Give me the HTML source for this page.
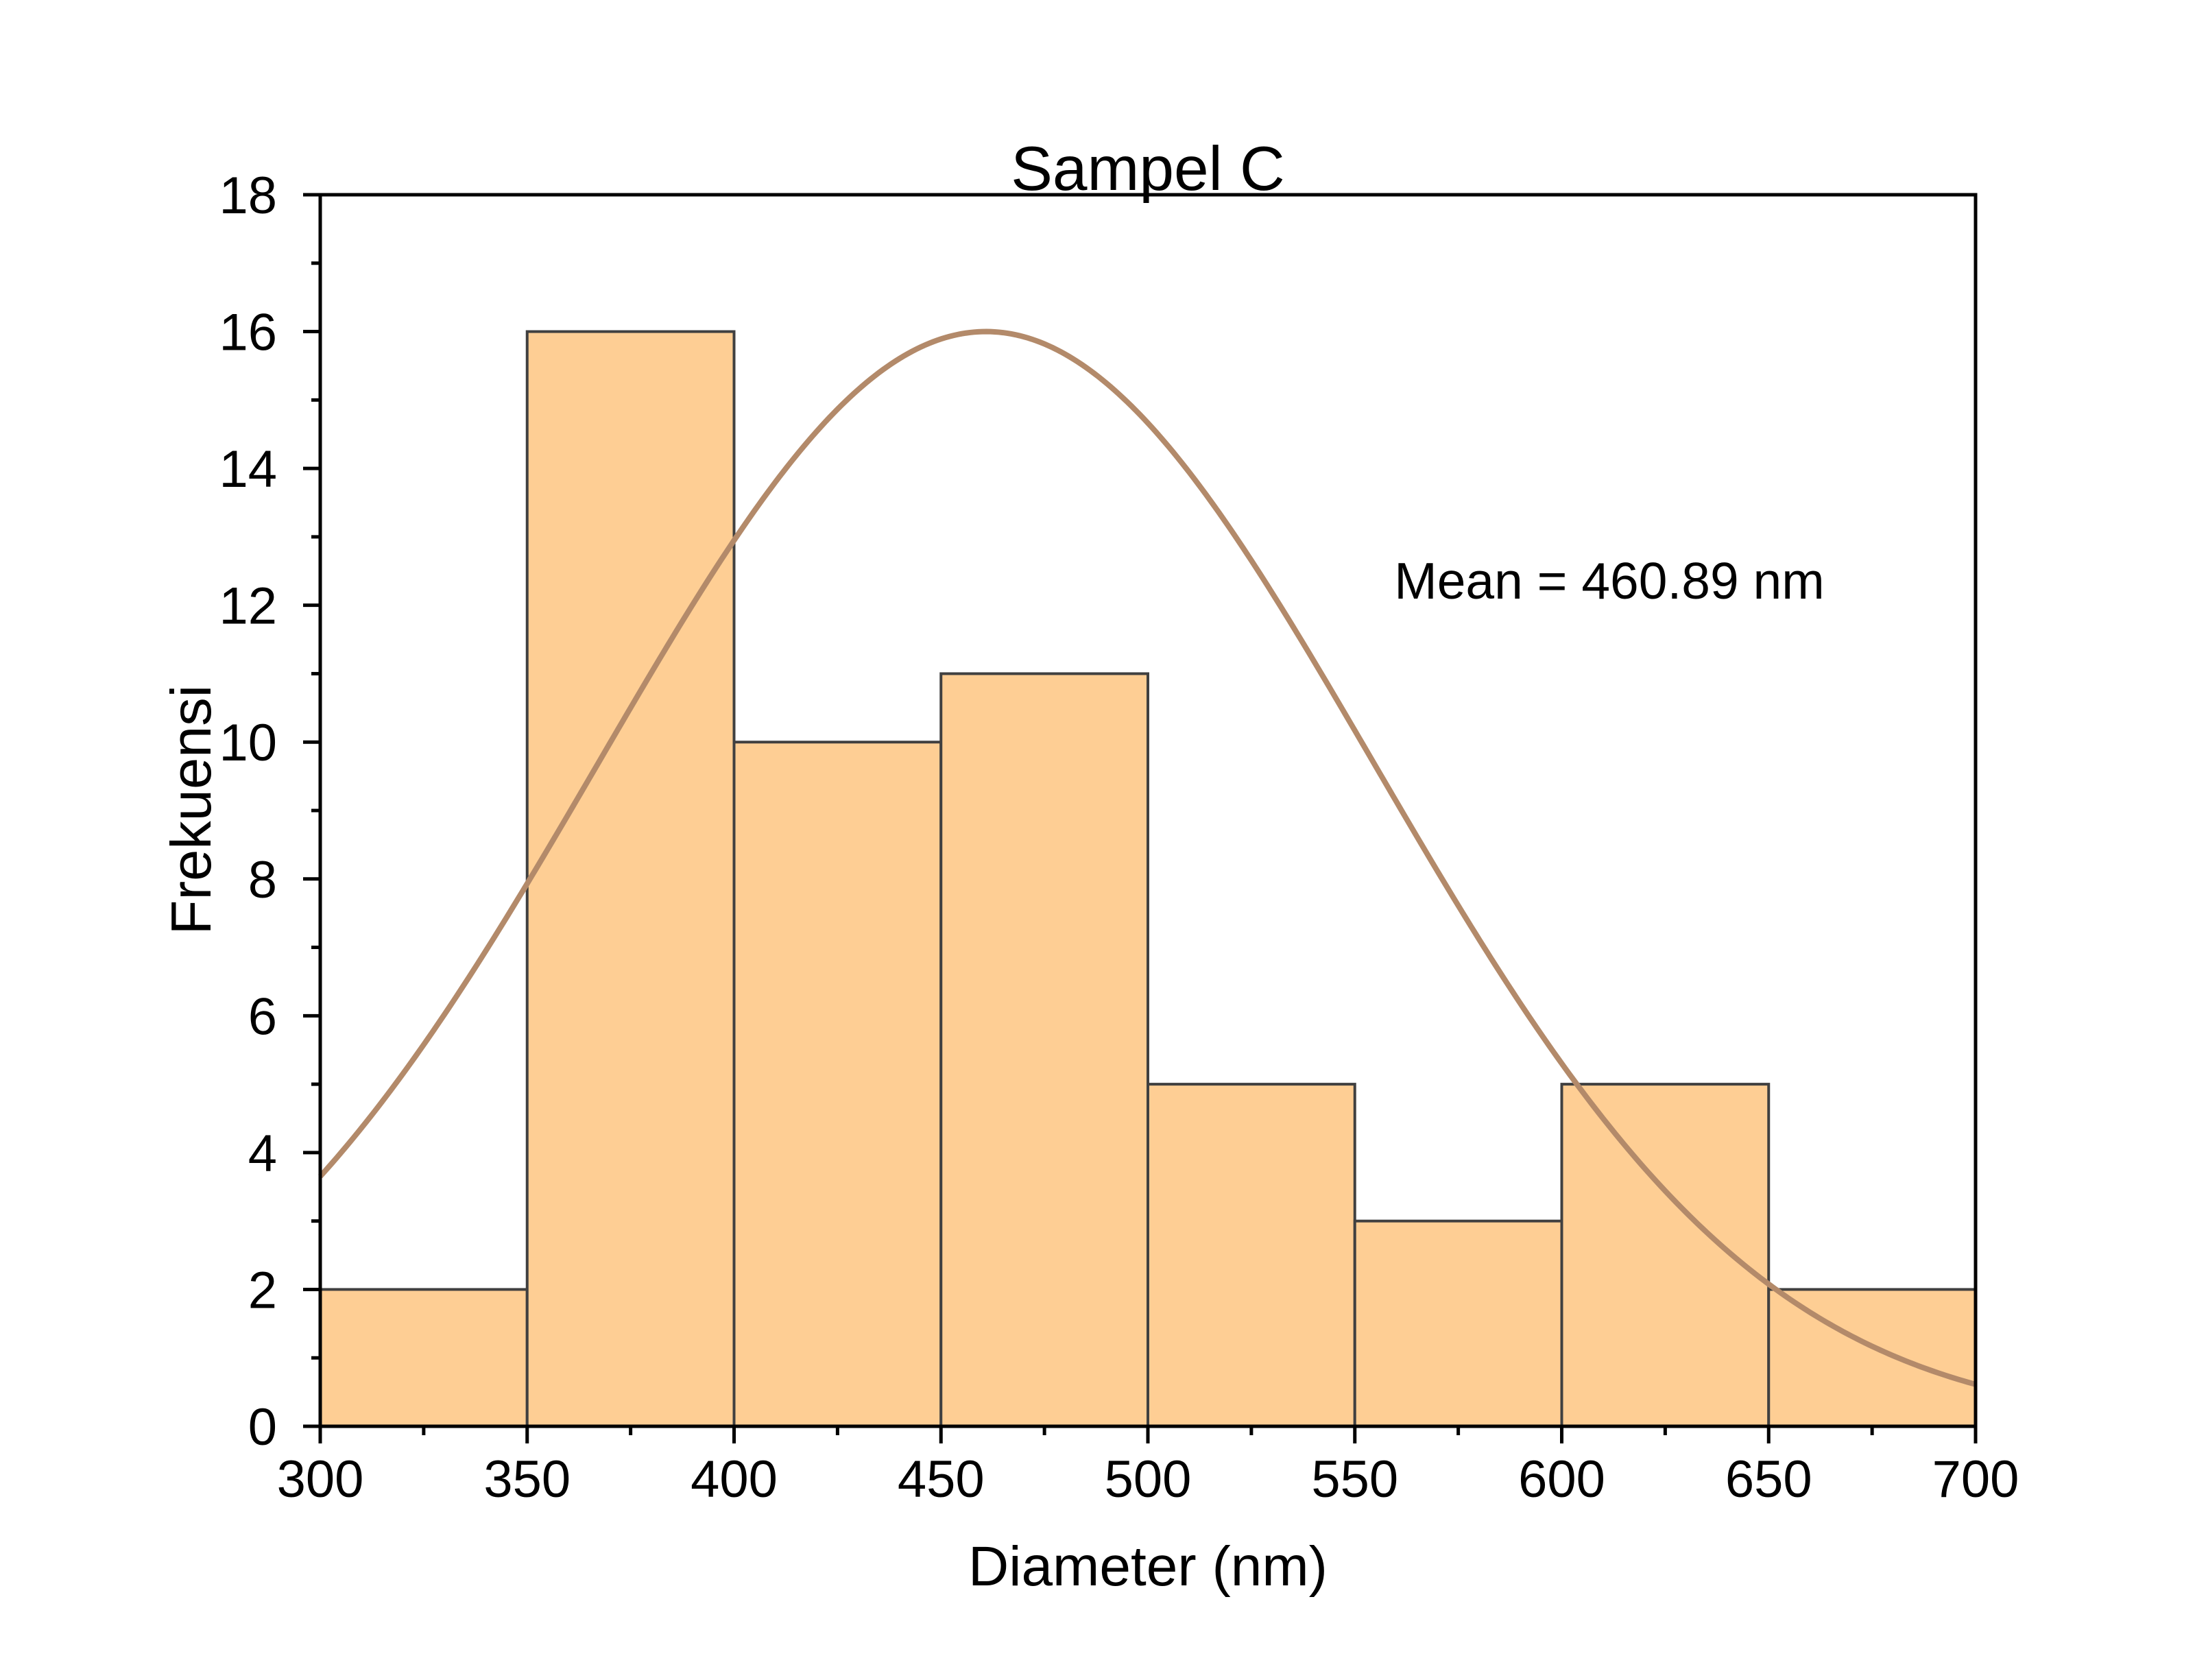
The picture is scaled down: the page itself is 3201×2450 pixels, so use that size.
<!DOCTYPE html>
<html><head><meta charset="utf-8"><style>
html,body{margin:0;padding:0;background:#fff;}
svg{display:block;}
text{font-family:"Liberation Sans",Arial,sans-serif;fill:#000;}
</style></head><body>
<svg id="chart" width="3201" height="2450" viewBox="0 0 3201 2450" xmlns="http://www.w3.org/2000/svg">
<rect width="3201" height="2450" fill="#fff"/>
<g id="bars"></g>
<g id="curve"></g>
<g id="axes"></g>
<text x="1674" y="277" font-size="91" text-anchor="middle">Sampel C</text>
<text x="1674" y="2312" font-size="82" text-anchor="middle">Diameter (nm)</text>
<text transform="translate(307,1181) rotate(-90)" font-size="83" text-anchor="middle">Frekuensi</text>
<text x="2347" y="873" font-size="75" text-anchor="middle">Mean = 460.89 nm</text>
</svg>
<script>
const binStarts = [300,350,400,450,500,550,600,650];
const binWidth = 50;
const counts = [2,16,10,11,5,3,5,2];
const xTicks = [300,350,400,450,500,550,600,650,700];
const yTicks = [0,2,4,6,8,10,12,14,16,18];
const fitMean = 460.89;
const fitPeak = 16.0;
const fitSigma = 93.6;

const L=467,R=2881,T=284,B=2080;
const xMin=300,xMax=700,yMin=0,yMax=18;
const NS="http://www.w3.org/2000/svg";
function sx(v){return L+(v-xMin)/(xMax-xMin)*(R-L);}
function sy(v){return B-(v-yMin)/(yMax-yMin)*(B-T);}
function mk(tag,attrs,parent){const e=document.createElementNS(NS,tag);for(const k in attrs)e.setAttribute(k,attrs[k]);parent.appendChild(e);return e;}

const gb=document.getElementById('bars');
binStarts.forEach((s,i)=>{
  const x0=sx(s),x1=sx(s+binWidth),y=sy(counts[i]);
  const r=mk('rect',{x:x0,y:y,width:x1-x0,height:B-y,fill:'#fece94',stroke:'#404040','stroke-width':4},gb);
  
  
});

const gc=document.getElementById('curve');
let d='';
for(let i=0;i<=400;i++){
  const v=xMin+(xMax-xMin)*i/400;
  const f=fitPeak*Math.exp(-Math.pow(v-fitMean,2)/(2*fitSigma*fitSigma));
  d+=(i?'L':'M')+sx(v).toFixed(2)+' '+sy(f).toFixed(2);
}
const p=mk('path',{d:d,fill:'none',stroke:'#b38a6a','stroke-width':8},gc);



const ga=document.getElementById('axes');
const frame=mk('rect',{x:L,y:T,width:R-L,height:B-T,fill:'none',stroke:'#000','stroke-width':5},ga);


xTicks.forEach((v,i)=>{
  const x=sx(v);
  const t=mk('line',{x1:x,y1:B,x2:x,y2:B+25,stroke:'#000','stroke-width':5},ga);
  
  
  const lb=mk('text',{x:x,y:2183,'font-size':76,'text-anchor':'middle'},ga);
  lb.textContent=v;
  
  
  if(i<xTicks.length-1){
    const xm=sx(v+25);
    const m=mk('line',{x1:xm,y1:B,x2:xm,y2:B+13,stroke:'#000','stroke-width':5},ga);
    
    
  }
});
yTicks.forEach((v,i)=>{
  const y=sy(v);
  const t=mk('line',{x1:L-25,y1:y,x2:L,y2:y,stroke:'#000','stroke-width':5},ga);
  
  
  const lb=mk('text',{x:404,y:y+27,'font-size':76,'text-anchor':'end'},ga);
  lb.textContent=v;
  
  
  if(i<yTicks.length-1){
    const ym=sy(v+1);
    const m=mk('line',{x1:L-13,y1:ym,x2:L,y2:ym,stroke:'#000','stroke-width':5},ga);
    
    
  }
});
</script>
</body></html>
